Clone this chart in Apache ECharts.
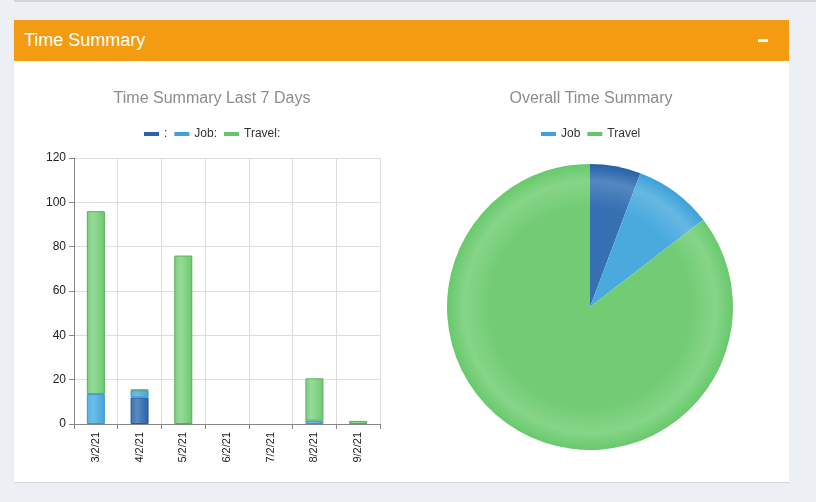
<!DOCTYPE html>
<html>
<head>
<meta charset="utf-8">
<script src="https://cdn.jsdelivr.net/npm/echarts@6/dist/echarts.min.js"></script>
<style>
    html, body { margin: 0; padding: 0; }
    body { width: 816px; height: 502px; background: #ecf0f5; position: relative; overflow: hidden; font-family: Arial, "Liberation Sans", sans-serif; }
    .topline { position: absolute; left: 14px; top: 0; width: 802px; height: 2px; background: #d2d6de; }
    .box { position: absolute; left: 14px; top: 20px; width: 775px; height: 462px; background: #fff; box-shadow: 0 1px 1px rgba(0,0,0,0.1); }
    .box-header { height: 41px; background: #f39c12; color: #fff; font-size: 18px; line-height: 41px; padding-left: 10px; }
    .minus { position: absolute; right: 21px; top: 19px; width: 10px; height: 3px; background: #fff; }
    #chart { position: absolute; left: 0; top: 41px; width: 775px; height: 421px; }
</style>
</head>
<body>
<div class="topline"></div>
<div class="box">
    <div class="box-header">Time Summary</div>
    <div class="minus"></div>
    <div id="chart"></div>
</div>
<script>
// 最近7天
var days = ['3/2/21', '4/2/21', '5/2/21', '6/2/21', '7/2/21', '8/2/21', '9/2/21'];
var otherHours = [0, 12, 0, 0, 0, 0, 0];
var jobHours = [13.5, 3.2, 0, 0, 0, 1.5, 0];
var travelHours = [82.5, 0.3, 76, 0, 0, 19.1, 1.4];
var yTicks = { min: 0, max: 120, interval: 20 };

// 总体
var pieNames = ['', 'Job', 'Travel'];
var pieValues = [12, 18.5, 179];

var pieCenter = [576, 246];
var pieRadius = 143;

var darkBlue = '#2b63a6', lightBlue = '#40a2dc', green = '#68c46c';

function barGrad(c1, c2, c3) {
    return {
        type: 'linear', x: 0, y: 0, x2: 1, y2: 0,
        colorStops: [{ offset: 0, color: c1 }, { offset: 0.35, color: c2 }, { offset: 1, color: c3 }]
    };
}
function pieGrad(edge, ring, inner) {
    return {
        type: 'radial', x: pieCenter[0], y: pieCenter[1], r: pieRadius, global: true,
        colorStops: [
            { offset: 0, color: inner },
            { offset: 0.7, color: inner },
            { offset: 0.88, color: ring },
            { offset: 1, color: edge }
        ]
    };
}
// 0 不画
function noZero(arr) {
    var out = [];
    for (var i = 0; i < arr.length; i++) {
        out[i] = arr[i] === 0 ? '-' : arr[i];
    }
    return out;
}

var chart = echarts.init(document.getElementById('chart'));

var pieColors = [
    pieGrad('#2660a6', '#5288c2', '#3670b2'),
    pieGrad('#3ca0da', '#66b8e2', '#4aaade'),
    pieGrad('#68c96c', '#86d588', '#72cc74')
];
var pieData = [];
for (var i = 0; i < pieNames.length; i++) {
    pieData.push({ name: pieNames[i], value: pieValues[i], itemStyle: { color: pieColors[i] } });
}

var legendStyle = {
    icon: 'rect', itemWidth: 15, itemHeight: 4, itemGap: 7,
    textStyle: { color: '#333', fontSize: 12 }
};
function legendItem(name, color) {
    return { name: name, itemStyle: { color: color, borderWidth: 0 } };
}

var option = {
    animation: false,
    textStyle: { fontFamily: 'Arial, "Liberation Sans", sans-serif' },
    title: [
        { text: 'Time Summary Last 7 Days', left: 193, top: 25, textAlign: 'center',
          textStyle: { color: '#8c8c8c', fontSize: 16, fontWeight: 'normal' } },
        { text: 'Overall Time Summary', left: 572, top: 25, textAlign: 'center',
          textStyle: { color: '#8c8c8c', fontSize: 16, fontWeight: 'normal' } }
    ],
    legend: [
        Object.assign({
            data: [legendItem(':', darkBlue), legendItem('Job:', lightBlue), legendItem('Travel:', green)],
            left: 125, top: 62 }, legendStyle),
        Object.assign({
            data: [legendItem('Job', lightBlue), legendItem('Travel', green)],
            left: 522, top: 62 }, legendStyle)
    ],
    color: [darkBlue, lightBlue, green],
    grid: { left: 60, top: 97, width: 306, height: 266 },
    xAxis: {
        type: 'category',
        data: days,
        axisLine: { lineStyle: { color: '#888' } },
        axisTick: { show: true, length: 5, lineStyle: { color: '#888' } },
        splitLine: { show: true, lineStyle: { color: '#ddd' } },
        axisLabel: { rotate: 90, color: '#222', fontSize: 11, margin: 8 }
    },
    yAxis: {
        type: 'value',
        min: yTicks.min, max: yTicks.max, interval: yTicks.interval,
        axisLine: { show: true, lineStyle: { color: '#888' } },
        axisTick: { show: true, length: 5, lineStyle: { color: '#888' } },
        splitLine: { lineStyle: { color: '#ddd' } },
        axisLabel: { color: '#222', fontSize: 12, margin: 8 }
    },
    series: [
        { name: ':', type: 'bar', stack: 'a', barWidth: 18, data: noZero(otherHours),
          itemStyle: { color: barGrad('#3a6fae', '#5a8ac2', '#2a60a4'), borderColor: '#275b9c', borderWidth: 1 } },
        { name: 'Job:', type: 'bar', stack: 'a', barWidth: 18, data: noZero(jobHours),
          itemStyle: { color: barGrad('#58b0e2', '#6dbde6', '#44a4dc'), borderColor: '#3a98d0', borderWidth: 1 } },
        { name: 'Travel:', type: 'bar', stack: 'a', barWidth: 18, data: noZero(travelHours),
          itemStyle: { color: barGrad('#7ccf80', '#96db98', '#6cc86f'), borderColor: '#58ad5c', borderWidth: 1 } },
        { name: 'Overall', type: 'pie', center: pieCenter, radius: pieRadius,
          startAngle: 90, clockwise: true, label: { show: false }, labelLine: { show: false },
          itemStyle: { borderWidth: 0 },
          data: pieData }
    ]
};
chart.setOption(option);
</script>
</body>
</html>
